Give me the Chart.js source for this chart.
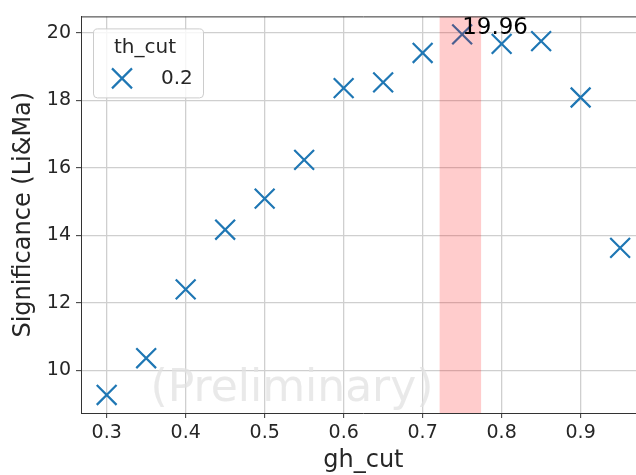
<!DOCTYPE html>
<html>
<head>
<meta charset="utf-8">
<script src="https://cdn.jsdelivr.net/npm/chart.js@4.4.1/dist/chart.umd.min.js"></script>
<style>
  html, body { margin: 0; padding: 0; background: #fff; overflow: hidden; }
  #wrap { width: 636px; height: 475px; overflow: hidden; position: relative; }
  canvas { display: block; }
</style>
</head>
<body>
<div id="wrap"><canvas id="chart" width="662" height="475"></canvas></div>
<script>
// data
const ghCut = [0.3, 0.35, 0.4, 0.45, 0.5, 0.55, 0.6, 0.65, 0.7, 0.75, 0.8, 0.85, 0.9, 0.95];
const significance = [9.27, 10.36, 12.4, 14.17, 15.09, 16.24, 18.37, 18.54, 19.41, 19.96, 19.68, 19.76, 18.09, 13.63];
const xTicks = [0.3, 0.4, 0.5, 0.6, 0.7, 0.8, 0.9];
const yTicks = [10, 12, 14, 16, 18, 20];
const bestBand = [0.7215, 0.774];
const bestPoint = [0.75, 19.96];
const seriesLabel = "0.2";
const legendTitle = "th_cut";

const BLUE = "#1f77b4";
const FONT = "'DejaVu Sans', sans-serif";

const points = ghCut.map((x, i) => ({ x: x, y: significance[i] }));

// red band, max label, top spine, watermark, legend
const extras = {
  id: "extras",
  afterDatasetsDraw(chart) {
    const { ctx, chartArea, scales } = chart;
    const x0 = scales.x.getPixelForValue(bestBand[0]);
    const x1 = scales.x.getPixelForValue(bestBand[1]);
    ctx.save();
    ctx.fillStyle = "rgba(255,0,0,0.2)";
    ctx.fillRect(x0, chartArea.top, x1 - x0, chartArea.bottom - chartArea.top);

    const px = scales.x.getPixelForValue(bestPoint[0]);
    const py = scales.y.getPixelForValue(bestPoint[1]);
    ctx.fillStyle = "#000";
    ctx.font = "23px " + FONT;
    ctx.textAlign = "left";
    ctx.textBaseline = "alphabetic";
    ctx.fillText(bestPoint[1].toFixed(2), px, py);

    ctx.strokeStyle = "#333";
    ctx.lineWidth = 1;
    ctx.beginPath();
    ctx.moveTo(chartArea.left, chartArea.top + 0.5);
    ctx.lineTo(chartArea.right, chartArea.top + 0.5);
    ctx.stroke();
    ctx.restore();
  },
  afterDraw(chart) {
    const { ctx, chartArea } = chart;
    ctx.save();
    // watermark
    ctx.fillStyle = "rgba(225,225,225,0.75)";
    ctx.font = "44px " + FONT;
    ctx.textAlign = "center";
    ctx.textBaseline = "middle";
    ctx.fillText("(Preliminary)", 292, 390);

    // legend box
    const lx = chartArea.left + 12, ly = chartArea.top + 12, lw = 110, lh = 69;
    ctx.fillStyle = "rgba(255,255,255,0.8)";
    ctx.strokeStyle = "#cccccc";
    ctx.lineWidth = 1;
    ctx.beginPath();
    ctx.roundRect(lx + 0.5, ly + 0.5, lw, lh, 4);
    ctx.fill();
    ctx.stroke();

    ctx.fillStyle = "#262626";
    ctx.font = "20px " + FONT;
    ctx.textAlign = "left";
    ctx.textBaseline = "middle";
    ctx.fillText(legendTitle, lx + 21, ly + 19);
    ctx.fillText(seriesLabel, lx + 68, ly + 50);

    const mx = lx + 29, my = ly + 50, r = 10;
    ctx.strokeStyle = BLUE;
    ctx.lineWidth = 2.2;
    ctx.beginPath();
    ctx.moveTo(mx - r, my - r); ctx.lineTo(mx + r, my + r);
    ctx.moveTo(mx - r, my + r); ctx.lineTo(mx + r, my - r);
    ctx.stroke();
    ctx.restore();
  }
};

new Chart(document.getElementById("chart"), {
  type: "scatter",
  data: {
    datasets: [{
      label: seriesLabel,
      data: points,
      pointStyle: "crossRot",
      pointRadius: 14,
      pointHoverRadius: 14,
      borderColor: BLUE,
      backgroundColor: BLUE,
      pointBorderWidth: 2.2,
      showLine: false
    }]
  },
  options: {
    responsive: false,
    animation: false,
    devicePixelRatio: 1,
    layout: { padding: { top: 10, right: 15, left: 0, bottom: 0 } },
    plugins: {
      legend: { display: false },
      tooltip: { enabled: false }
    },
    scales: {
      x: {
        type: "linear",
        min: 0.2675,
        max: 0.9825,
        afterBuildTicks: (s) => { s.ticks = xTicks.map(v => ({ value: v })); },
        afterFit: (s) => { s.height = 62; },
        ticks: {
          autoSkip: false,
          maxRotation: 0,
          color: "#262626",
          padding: 4,
          font: { family: FONT, size: 19 },
          callback: (v) => v.toFixed(1)
        },
        grid: { color: "#cfcfcf", lineWidth: 1.3, tickLength: 5, tickColor: "#333", tickWidth: 1 },
        border: { display: true, color: "#333", width: 1 },
        title: {
          display: true,
          text: "gh_cut",
          color: "#262626",
          font: { family: FONT, size: 24 },
          padding: { top: 0, bottom: 0 }
        }
      },
      y: {
        type: "linear",
        min: 8.7355,
        max: 20.4945,
        afterBuildTicks: (s) => { s.ticks = yTicks.map(v => ({ value: v })); },
        afterFit: (s) => { s.width = 81; },
        ticks: {
          autoSkip: false,
          color: "#262626",
          padding: 5,
          font: { family: FONT, size: 19 }
        },
        grid: { color: "#cfcfcf", lineWidth: 1.3, tickLength: 5, tickColor: "#333", tickWidth: 1 },
        border: { display: true, color: "#333", width: 1 },
        title: {
          display: true,
          text: "Significance (Li&Ma)",
          color: "#262626",
          font: { family: FONT, size: 24 },
          padding: { top: 9, bottom: 0 }
        }
      }
    }
  },
  plugins: [extras]
});
</script>
</body>
</html>
